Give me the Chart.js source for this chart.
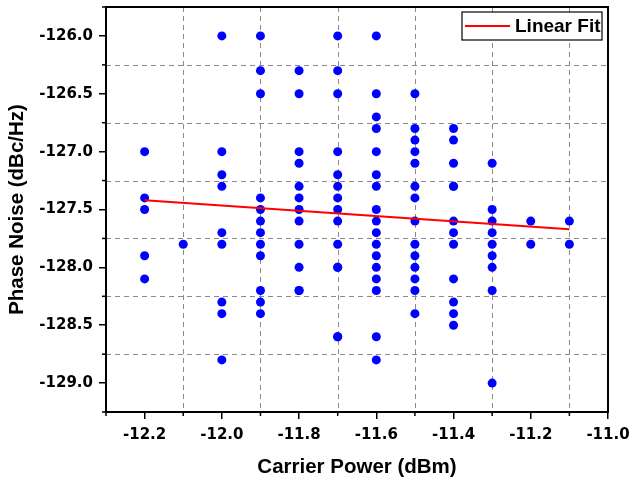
<!DOCTYPE html>
<html><head><meta charset="utf-8">
<script src="https://cdn.jsdelivr.net/npm/chart.js@4.4.1/dist/chart.umd.min.js"></script>
<style>html,body{margin:0;padding:0;background:#fff;}canvas{display:block;}</style>
</head><body>
<canvas id="c" width="634" height="483"></canvas>
<script>
// ---- data ----
const powerLevels = [-12.2, -12.1, -12.0, -11.9, -11.8, -11.7, -11.6, -11.5, -11.4, -11.3, -11.2, -11.1];
const noiseAtM12_2 = [-127.0, -127.4, -127.5, -127.9, -128.1];
const noiseAtM12_1 = [-127.8];
const noiseAtM12_0 = [-126.0, -127.0, -127.2, -127.3, -127.7, -127.8, -128.3, -128.4, -128.8];
const noiseAtM11_9 = [-126.0, -126.3, -126.5, -127.4, -127.5, -127.6, -127.7, -127.8, -127.9, -128.2, -128.3, -128.4];
const noiseAtM11_8 = [-126.3, -126.5, -127.0, -127.1, -127.3, -127.4, -127.5, -127.6, -127.8, -128.0, -128.2, -128.2];
const noiseAtM11_7 = [-126.0, -126.3, -126.5, -127.0, -127.2, -127.3, -127.4, -127.5, -127.6, -127.8, -128.0, -128.0, -128.6, -128.6];
const noiseAtM11_6 = [-126.0, -126.5, -126.7, -126.8, -127.0, -127.2, -127.3, -127.5, -127.6, -127.7, -127.8, -127.9, -128.0, -128.1, -128.2, -128.6, -128.8];
const noiseAtM11_5 = [-126.5, -126.8, -126.9, -127.0, -127.1, -127.3, -127.4, -127.6, -127.8, -127.9, -128.0, -128.1, -128.2, -128.4];
const noiseAtM11_4 = [-126.8, -126.9, -127.1, -127.3, -127.3, -127.6, -127.7, -127.8, -128.1, -128.3, -128.4, -128.5];
const noiseAtM11_3 = [-127.1, -127.5, -127.6, -127.7, -127.8, -127.9, -128.0, -128.2, -129.0];
const noiseAtM11_2 = [-127.6, -127.8];
const noiseAtM11_1 = [-127.6, -127.8];
const noiseColumns = [noiseAtM12_2, noiseAtM12_1, noiseAtM12_0, noiseAtM11_9, noiseAtM11_8, noiseAtM11_7,
                      noiseAtM11_6, noiseAtM11_5, noiseAtM11_4, noiseAtM11_3, noiseAtM11_2, noiseAtM11_1];
const fitPower = [-12.2, -11.1];
const fitNoise = [-127.42, -127.67];
const fitLabel = 'Linear Fit';

const xMajorTicks = [-12.2, -12.0, -11.8, -11.6, -11.4, -11.2, -11.0];
const xMinorTicks = [-12.3, -12.1, -11.9, -11.7, -11.5, -11.3, -11.1];
const yMajorTicks = [-126.0, -126.5, -127.0, -127.5, -128.0, -128.5, -129.0];
const yMinorTicks = [-125.75, -126.25, -126.75, -127.25, -127.75, -128.25, -128.75, -129.25];
const xGridValues = [-12.1, -11.9, -11.7, -11.5, -11.3, -11.1];
const yGridValues = [-126.25, -126.75, -127.25, -127.75, -128.25, -128.75];

const scatterPoints = [];
powerLevels.forEach((p, i) => noiseColumns[i].forEach(v => scatterPoints.push({x: p, y: v})));
const fitPoints = fitPower.map((p, i) => ({x: p, y: fitNoise[i]}));

const tickFont = {family: '"DejaVu Sans"', size: 15, weight: 'bold'};
const titleFont = {family: '"Liberation Sans", Arial', size: 20.5, weight: 'bold'};

const decor = {
  id: 'decor',
  beforeDatasetsDraw(chart) {
    const {ctx, chartArea: a, scales: {x, y}} = chart;
    ctx.save();
    ctx.strokeStyle = '#8a8a8a'; ctx.lineWidth = 1; ctx.setLineDash([5, 4]);
    xGridValues.forEach(v => {
      const p = Math.round(x.getPixelForValue(v)) + 0.5;
      ctx.beginPath(); ctx.moveTo(p, a.top); ctx.lineTo(p, a.bottom); ctx.stroke();
    });
    yGridValues.forEach(v => {
      const p = Math.round(y.getPixelForValue(v)) + 0.5;
      ctx.beginPath(); ctx.moveTo(a.left, p); ctx.lineTo(a.right, p); ctx.stroke();
    });
    ctx.restore();
  },
  afterDraw(chart) {
    const {ctx, chartArea: a, scales: {x, y}} = chart;
    ctx.save();
    ctx.strokeStyle = '#000'; ctx.lineWidth = 1.5; ctx.setLineDash([]);
    xMinorTicks.forEach(v => {
      const p = x.getPixelForValue(v);
      ctx.beginPath(); ctx.moveTo(p, a.bottom); ctx.lineTo(p, a.bottom + 4); ctx.stroke();
    });
    yMinorTicks.forEach(v => {
      const p = y.getPixelForValue(v);
      ctx.beginPath(); ctx.moveTo(a.left, p); ctx.lineTo(a.left - 4, p); ctx.stroke();
    });
    ctx.lineWidth = 2;
    ctx.strokeRect(a.left, a.top, a.right - a.left, a.bottom - a.top);
    // legend box
    const bx = a.right - 146, by = a.top + 5, bw = 140, bh = 28;
    ctx.fillStyle = '#fff'; ctx.fillRect(bx, by, bw, bh);
    ctx.lineWidth = 1.2; ctx.strokeStyle = '#000'; ctx.strokeRect(bx, by, bw, bh);
    ctx.strokeStyle = '#ff0000'; ctx.lineWidth = 2;
    ctx.beginPath(); ctx.moveTo(bx + 3, by + 14); ctx.lineTo(bx + 48, by + 14); ctx.stroke();
    ctx.fillStyle = '#000'; ctx.font = 'bold 19px "Liberation Sans", Arial';
    ctx.textBaseline = 'middle'; ctx.textAlign = 'left';
    ctx.fillText(chart.data.datasets[0].label, bx + 53, by + 15);
    ctx.restore();
  }
};

new Chart(document.getElementById('c'), {
  type: 'scatter',
  data: {
    datasets: [
      {label: fitLabel, type: 'line', data: fitPoints, borderColor: '#ff0000', borderWidth: 2,
       pointRadius: 0, fill: false, order: 0, tension: 0},
      {label: 'Data', data: scatterPoints, backgroundColor: '#0000ff', borderColor: '#0000ff',
       pointRadius: 4.5, pointBorderWidth: 0, order: 1}
    ]
  },
  options: {
    responsive: false, animation: false, devicePixelRatio: 1,
    layout: {padding: {left: 0, top: 7, right: 26, bottom: 0}},
    plugins: {legend: {display: false}, tooltip: {enabled: false}},
    scales: {
      x: {
        type: 'linear', min: -12.3, max: -11.0,
        afterBuildTicks: s => { s.ticks = xMajorTicks.map(v => ({value: v})); },
        afterFit: s => { s.height = 71; s.paddingLeft = 0; s.paddingRight = 0; },
        ticks: {callback: v => v.toFixed(1), font: tickFont, color: '#000', padding: 7, maxRotation: 0, autoSkip: false},
        grid: {display: true, drawOnChartArea: false, drawTicks: true, tickLength: 7, color: '#000', lineWidth: 1.5},
        border: {display: true, color: '#000', width: 2},
        title: {display: true, text: 'Carrier Power (dBm)', font: titleFont, color: '#000', padding: 3}
      },
      y: {
        type: 'linear', min: -129.25, max: -125.75,
        afterBuildTicks: s => { s.ticks = yMajorTicks.map(v => ({value: v})); },
        afterFit: s => { s.width = 106; s.paddingTop = 0; s.paddingBottom = 0; },
        ticks: {callback: v => v.toFixed(1), font: tickFont, color: '#000', padding: 6, autoSkip: false},
        grid: {display: true, drawOnChartArea: false, drawTicks: true, tickLength: 7, color: '#000', lineWidth: 1.5},
        border: {display: true, color: '#000', width: 2},
        title: {display: true, text: 'Phase Noise (dBc/Hz)', font: titleFont, color: '#000', padding: 5}
      }
    }
  },
  plugins: [decor]
});
</script>
</body></html>
